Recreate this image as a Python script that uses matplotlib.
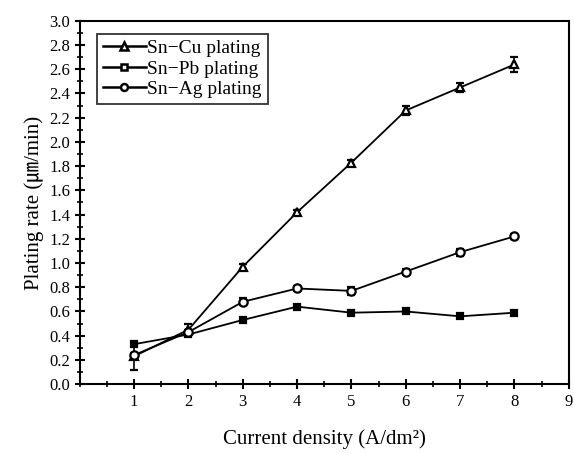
import matplotlib
matplotlib.use("Agg")
import matplotlib.pyplot as plt
from matplotlib.ticker import MultipleLocator
from matplotlib.lines import Line2D

plt.rcParams['font.family'] = ['Liberation Serif', 'Noto Sans CJK JP', 'DejaVu Sans']

x = [1, 2, 3, 4, 5, 6, 7, 8]
sn_cu = [0.23, 0.45, 0.97, 1.42, 1.83, 2.26, 2.45, 2.64]
sn_cu_err = [0.11, 0.05, 0.02, 0.02, 0.02, 0.04, 0.04, 0.06]
sn_pb = [0.33, 0.41, 0.53, 0.64, 0.59, 0.60, 0.56, 0.59]
sn_ag = [0.24, 0.43, 0.68, 0.79, 0.77, 0.93, 1.09, 1.22]
sn_ag_err = [0.02, 0.02, 0.03, 0.02, 0.03, 0.02, 0.03, 0.02]
labels = ['Sn\u2212Cu plating', 'Sn\u2212Pb plating', 'Sn\u2212Ag plating']

fig = plt.figure(figsize=(5.74, 4.53), dpi=100)
ax = fig.add_axes([0.139, 0.152, 0.852, 0.802])

kw = dict(color='black', lw=1.3, ms=6, mew=1.6, capsize=3, elinewidth=1.2, capthick=1.2)
ax.errorbar(x, sn_cu, yerr=sn_cu_err, marker='^', mfc='white', **kw)
ax.plot(x, sn_pb, marker='s', mfc='black', ms=5, color='black', lw=1.3, mew=1.6)
ax.errorbar(x, sn_ag, yerr=sn_ag_err, marker='o', mfc='white', **kw)

handles = [
    Line2D([], [], color='black', lw=1.8, marker='^', mfc='white', ms=6, mew=1.8),
    Line2D([], [], color='black', lw=1.8, marker='s', mfc='white', ms=5, mew=1.8),
    Line2D([], [], color='black', lw=1.8, marker='o', mfc='white', ms=5, mew=1.8),
]

ax.set_xlim(0, 9)
ax.set_ylim(0, 3.0)
ax.set_xticks([1, 2, 3, 4, 5, 6, 7, 8, 9])
ax.xaxis.set_minor_locator(MultipleLocator(0.5))
ax.yaxis.set_major_locator(MultipleLocator(0.2))
ax.yaxis.set_minor_locator(MultipleLocator(0.1))
ax.set_yticklabels([f"{v:.1f}" for v in ax.get_yticks()])
ax.tick_params(axis='both', which='major', direction='inout', length=7, width=1.5, labelsize=12)
ax.tick_params(axis='both', which='minor', direction='inout', length=4, width=1.2)
for s in ax.spines.values():
    s.set_linewidth(1.5)

ax.set_xlabel('Current density (A/dm\u00b2)', fontsize=15, labelpad=14)
ax.set_ylabel('Plating rate (\u339b/min)', fontsize=15, labelpad=4)

leg = ax.legend(handles, labels, loc='upper left', bbox_to_anchor=(0.035, 0.965), fontsize=14,
                frameon=True, fancybox=False, edgecolor='black', handlelength=2.2,
                handletextpad=0.1, borderpad=0.3, labelspacing=0.15, borderaxespad=0)
leg.get_frame().set_linewidth(1.3)

fig.savefig('out.png', dpi=100)
